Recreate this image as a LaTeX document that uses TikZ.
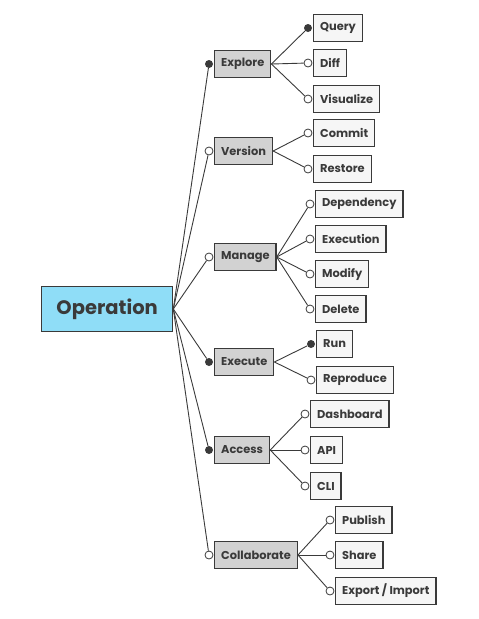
\documentclass[tikz,border=0pt]{standalone}
\usepackage{fontspec}
\setmainfont{Poppins}
\usetikzlibrary{positioning}
\definecolor{rootblue}{HTML}{8FDDF7}
\definecolor{midgray}{HTML}{D2D2D2}
\definecolor{leafgray}{HTML}{F6F6F6}
\definecolor{ink}{HTML}{3A3A3A}
\tikzset{
  box/.style={draw=ink, line width=1.3pt, anchor=west, minimum height=27,
    inner xsep=6.5pt, text=ink, font=\bfseries\fontsize{11.4}{13}\selectfont},
  rootbox/.style={box, fill=rootblue, minimum height=45, minimum width=131,
    font=\bfseries\fontsize{19.5}{22}\selectfont},
  midbox/.style={box, fill=midgray},
  leafbox/.style={box, fill=leafgray},
  full/.style={circle, fill=ink, inner sep=0pt, minimum size=8},
  empty/.style={circle, draw=ink, fill=white, line width=0.8pt, inner sep=0pt, minimum size=8},
  link/.style={draw=ink, line width=0.9pt}
}
\begin{document}
\begin{tikzpicture}[x=1pt,y=-1pt]
\useasboundingbox (0,0) rectangle (479,619);
\node[rootbox] (operation) at (41,309) {Operation};
% second level
\foreach \n/\y/\t/\s in {explore/64/Explore/full, version/151/Version/empty,
    manage/257/Manage/empty, execute/362/Execute/full,
    access/450/Access/full, collaborate/555/Collaborate/empty} {
  \node[midbox] (\n) at (214,\y) {\t};
  \node[\s] (\n-dot) at ([xshift=-5]\n.west) {};
  \draw[link] (operation.east) -- (\n-dot);
}
% leaves
\foreach \n/\y/\t/\s in {query/28/Query/full, diff/63/Diff/empty, visualize/99/Visualize/empty} {
  \node[leafbox] (\n) at (313,\y) {\t};
  \node[\s] (\n-dot) at ([xshift=-5]\n.west) {};
  \draw[link] (explore.east) -- (\n-dot);
}
\foreach \n/\y/\t/\s in {commit/133/Commit/empty, restore/169/Restore/empty} {
  \node[leafbox] (\n) at (313,\y) {\t};
  \node[\s] (\n-dot) at ([xshift=-5]\n.west) {};
  \draw[link] (version.east) -- (\n-dot);
}
\foreach \n/\y/\t/\s in {dependency/204/Dependency/empty, execution/239/Execution/empty,
    modify/274/Modify/empty, delete/309/Delete/empty} {
  \node[leafbox] (\n) at (315,\y) {\t};
  \node[\s] (\n-dot) at ([xshift=-5]\n.west) {};
  \draw[link] (manage.east) -- (\n-dot);
}
\foreach \n/\y/\t/\s in {run/344/Run/full, reproduce/380/Reproduce/empty} {
  \node[leafbox] (\n) at (316,\y) {\t};
  \node[\s] (\n-dot) at ([xshift=-5]\n.west) {};
  \draw[link] (execute.east) -- (\n-dot);
}
\foreach \n/\y/\t/\s in {dashboard/414/Dashboard/empty, api/450/API/empty, cli/486/CLI/empty} {
  \node[leafbox] (\n) at (310,\y) {\t};
  \node[\s] (\n-dot) at ([xshift=-5]\n.west) {};
  \draw[link] (access.east) -- (\n-dot);
}
\foreach \n/\y/\t/\s in {publish/520/Publish/empty, share/555/Share/empty,
    export/591/{Export / Import}/empty} {
  \node[leafbox] (\n) at (335,\y) {\t};
  \node[\s] (\n-dot) at ([xshift=-5]\n.west) {};
  \draw[link] (collaborate.east) -- (\n-dot);
}
\end{tikzpicture}
\end{document}
